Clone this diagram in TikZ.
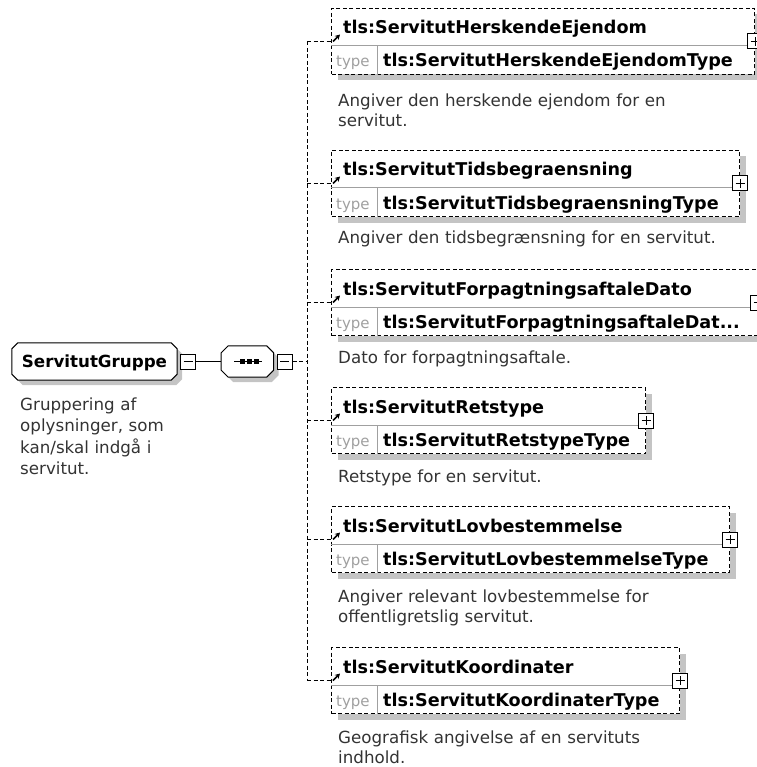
\documentclass[tikz,border=0pt]{standalone}
\usepackage{fontspec}
\setmainfont{DejaVu Sans}
\usetikzlibrary{arrows.meta, positioning, shadows, backgrounds}
\definecolor{shadowgrey}{HTML}{C4C4C4}
\definecolor{linegrey}{HTML}{A0A0A0}
\definecolor{descgrey}{HTML}{333333}

% octagon outline round a node, #2 = size of the cut corners
\newcommand{\chamferpath}[2]{([xshift=#2]#1.north west) -- ([xshift=-#2]#1.north east) -- ([yshift=-#2]#1.north east) -- ([yshift=#2]#1.south east) -- ([xshift=-#2]#1.south east) -- ([xshift=#2]#1.south west) -- ([yshift=#2]#1.south west) -- ([yshift=-#2]#1.north west) -- cycle}

\begin{document}
\begin{tikzpicture}[
    x=1pt, y=-1pt,
    elembox/.style={rectangle, draw, line width=1pt, dash pattern=on 4pt off 2.5pt, fill=white, anchor=north west, minimum height=66pt, inner sep=0pt,
        drop shadow={shadow xshift=6pt, shadow yshift=-6pt, fill=shadowgrey, opacity=1}},
    titletext/.style={anchor=base west, inner sep=0pt, font=\bfseries\fontsize{17.6}{20}\selectfont},
    typelabel/.style={anchor=base west, inner sep=0pt, text=linegrey, font=\fontsize{15}{18}\selectfont},
    desctext/.style={anchor=base west, inner sep=0pt, text=descgrey, text width=430pt, align=left, font=\fontsize{16.7}{20}\selectfont},
    divline/.style={linegrey, line width=1pt},
    conn/.style={line width=1pt, dash pattern=on 4pt off 2.5pt},
    grpnode/.style={inner sep=0pt, minimum width=165pt, minimum height=37pt, text height=13pt, text depth=1pt, font=\bfseries\fontsize{16.7}{20}\selectfont},
    seqnode/.style={inner sep=0pt, minimum width=52pt, minimum height=31pt},
    plusbox/.style={rectangle, draw, fill=white, line width=1pt, minimum size=15pt, inner sep=0pt,
        path picture={\draw[line width=1pt] ([xshift=3pt]path picture bounding box.west) -- ([xshift=-3pt]path picture bounding box.east)
            ([yshift=-3pt]path picture bounding box.north) -- ([yshift=3pt]path picture bounding box.south);}},
    minusbox/.style={rectangle, draw, fill=white, line width=1pt, minimum size=15pt, inner sep=0pt,
        path picture={\draw[line width=1pt] ([xshift=3pt]path picture bounding box.west) -- ([xshift=-3pt]path picture bounding box.east);}},
    refarrow/.style={-{Stealth[length=5pt,width=5.5pt]}, line width=1.5pt}
]
    \useasboundingbox (0,0) rectangle (756,767);
    \coordinate (busx) at (307,0);

    % group and sequence compositor
    \node [grpnode] (gruppe) at (94.5,361.5) {ServitutGruppe};
    \node [minusbox, right=3pt of gruppe] (gminus) {};
    \node [seqnode, right=25pt of gminus] (seq) {};
    \node [minusbox, right=3pt of seq] (sminus) {};
    \begin{scope}[on background layer]
        \fill [shadowgrey, transform canvas={shift={(5pt,-5pt)}}] \chamferpath{gruppe}{6pt};
        \draw [line width=1pt, fill=white] \chamferpath{gruppe}{6pt};
        \fill [shadowgrey, transform canvas={shift={(5pt,-5pt)}}] \chamferpath{seq}{7pt};
        \draw [line width=1pt, fill=white] \chamferpath{seq}{7pt};
    \end{scope}
    \draw [line width=1pt] ([xshift=-13pt]seq.center) -- ([xshift=15pt]seq.center);
    \foreach \dx in {-7.5,-0.5,6.5}
        \fill ([xshift=\dx pt, yshift=2.5pt]seq.center) rectangle ++(5,5);
    \draw [line width=1pt] (gminus) -- (seq);
    \draw [conn] (sminus) -- (sminus -| busx);

    \node [desctext, font=\fontsize{16.7}{21.5}\selectfont] (gruppe-desc) at (20,410) {Gruppering af\\oplysninger, som\\kan/skal indgå i\\servitut.};

    % the six elements
    \foreach \nm/\ytop/\xr/\ttl/\typ/\dsc/\doff in {
        hersk/8/754/ServitutHerskendeEjendom/ServitutHerskendeEjendomType/{Angiver den herskende ejendom for en\\servitut.}/99,
        tids/150/739/ServitutTidsbegraensning/ServitutTidsbegraensningType/{Angiver den tidsbegrænsning for en servitut.}/93,
        forp/269/757/ServitutForpagtningsaftaleDato/{ServitutForpagtningsaftaleDat...}/{Dato for forpagtningsaftale.}/94,
        rets/387/645/ServitutRetstype/ServitutRetstypeType/{Retstype for en servitut.}/95,
        lov/506/729/ServitutLovbestemmelse/ServitutLovbestemmelseType/{Angiver relevant lovbestemmelse for\\offentligretslig servitut.}/96,
        koord/647/679/ServitutKoordinater/ServitutKoordinaterType/{Geografisk angivelse af en servituts\\indhold.}/96}
    {
        \node [elembox, minimum width={(\xr-331)*1pt}] (\nm) at (331,\ytop) {};
        \draw [divline] ([yshift=-38pt]\nm.north west) -- ([yshift=-38pt]\nm.north east);
        \draw [divline] ([xshift=46pt,yshift=-38pt]\nm.north west) -- ([xshift=46pt]\nm.south west);
        \node [titletext] (\nm-title) at (343,\ytop+26) {tls:\ttl};
        \node [typelabel] (\nm-lbl) at (336,\ytop+59) {type};
        \node [titletext] (\nm-type) at (383,\ytop+59) {tls:\typ};
        \node [desctext] (\nm-desc) at (338,\ytop+\doff) {\dsc};
        \node [plusbox] (\nm-plus) at (\nm.east) {};
        \draw [conn] (\nm.west -| busx) -- (\nm.west);
        \draw [refarrow] ([xshift=2pt]\nm.west) -- ++(7,-7);
    }
    \draw [conn] (hersk.west -| busx) -- (koord.west -| busx);
\end{tikzpicture}
\end{document}
